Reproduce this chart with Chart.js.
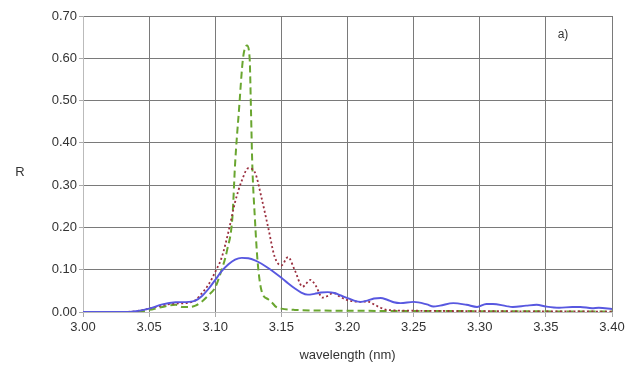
<!DOCTYPE html>
<html><head><meta charset="utf-8">
<script src="https://cdn.jsdelivr.net/npm/chart.js@4/dist/chart.umd.min.js"></script>
<style>html,body{margin:0;padding:0;background:#fff}#wrap{width:629px;height:375px}</style>
</head><body><div id="wrap"><canvas id="c" width="629" height="375"></canvas></div>
<script>
const xTicks = ['3.00','3.05','3.10','3.15','3.20','3.25','3.30','3.35','3.40'];
const yTicks = ['0.00','0.10','0.20','0.30','0.40','0.50','0.60','0.70'];

const blueX = [3.00,3.03,3.04,3.05,3.06,3.07,3.08,3.085,3.09,3.095,3.10,3.105,3.11,3.115,3.12,3.125,3.13,3.135,3.14,3.145,3.15,3.155,3.16,3.165,3.17,3.175,3.18,3.185,3.19,3.195,3.20,3.205,3.21,3.215,3.22,3.225,3.23,3.235,3.24,3.25,3.26,3.265,3.27,3.28,3.29,3.298,3.305,3.31,3.32,3.325,3.335,3.343,3.35,3.36,3.37,3.376,3.385,3.39,3.40];
const blueY = [0,0,0.002,0.008,0.018,0.023,0.024,0.027,0.038,0.055,0.076,0.097,0.113,0.124,0.128,0.127,0.122,0.114,0.104,0.093,0.081,0.068,0.056,0.046,0.041,0.043,0.046,0.047,0.045,0.039,0.033,0.027,0.024,0.027,0.032,0.033,0.029,0.023,0.021,0.024,0.018,0.013,0.015,0.021,0.017,0.012,0.019,0.019,0.014,0.012,0.015,0.017,0.013,0.010,0.012,0.012,0.009,0.010,0.007];

const redX = [3.00,3.03,3.04,3.05,3.06,3.07,3.08,3.085,3.09,3.095,3.10,3.105,3.11,3.115,3.12,3.125,3.13,3.135,3.14,3.145,3.15,3.155,3.16,3.166,3.172,3.176,3.181,3.185,3.189,3.195,3.20,3.205,3.21,3.215,3.22,3.225,3.23,3.25,3.30,3.40];
const redY = [0,0,0.002,0.008,0.016,0.020,0.022,0.028,0.045,0.065,0.095,0.13,0.19,0.26,0.31,0.34,0.33,0.27,0.20,0.13,0.11,0.13,0.10,0.060,0.076,0.062,0.034,0.038,0.045,0.035,0.028,0.025,0.024,0.025,0.018,0.010,0.005,0.003,0.002,0.001];

const greenX = [3.00,3.04,3.05,3.06,3.07,3.075,3.08,3.085,3.09,3.095,3.10,3.104,3.109,3.113,3.115,3.118,3.121,3.124,3.126,3.127,3.128,3.130,3.132,3.135,3.14,3.143,3.146,3.15,3.16,3.20,3.30,3.40];
const greenY = [0,0,0.005,0.012,0.017,0.012,0.012,0.015,0.025,0.040,0.058,0.092,0.147,0.225,0.35,0.48,0.60,0.63,0.60,0.48,0.35,0.22,0.12,0.05,0.03,0.022,0.012,0.008,0.005,0.003,0.002,0.001];

const pts = (xs, ys) => xs.map((x, i) => ({x, y: ys[i]}));
const font = {family: '"Liberation Sans", Arial, sans-serif', size: 13};

const labels = {
  id: 'labels',
  afterDraw(chart) {
    const ctx = chart.ctx;
    ctx.save();
    ctx.fillStyle = '#333';
    ctx.font = '13px "Liberation Sans", Arial, sans-serif';
    ctx.textAlign = 'center';
    ctx.textBaseline = 'middle';
    ctx.fillText('R', 20, 172);
    ctx.font = '12px "Liberation Sans", Arial, sans-serif';
    ctx.fillText('a)', 563, 35);
    ctx.restore();
  }
};

new Chart(document.getElementById('c'), {
  type: 'line',
  data: {
    datasets: [
      {data: pts(blueX, blueY), borderColor: '#5858e0', borderWidth: 1.9, pointRadius: 0, cubicInterpolationMode: 'monotone', fill: false},
      {data: pts(redX, redY), borderColor: '#9a2e3e', borderWidth: 1.8, borderDash: [2, 2.5], pointRadius: 0, cubicInterpolationMode: 'monotone', fill: false},
      {data: pts(greenX, greenY), borderColor: '#6aa630', borderWidth: 2, borderDash: [7, 4], pointRadius: 0, cubicInterpolationMode: 'monotone', fill: false}
    ]
  },
  options: {
    responsive: false,
    animation: false,
    events: [],
    layout: {padding: {left: 0, right: 17, top: 16, bottom: 0}},
    plugins: {legend: {display: false}, tooltip: {enabled: false}},
    scales: {
      x: {
        type: 'linear', min: 3.0, max: 3.4,
        afterBuildTicks(s) { s.ticks = xTicks.map(t => ({value: parseFloat(t)})); },
        afterFit(s) { s.height = 63; },
        ticks: {callback: (v) => v.toFixed(2), color: '#333', font, padding: 3, maxRotation: 0, autoSkip: false},
        grid: {color: '#7a7a7a', lineWidth: 1, tickLength: 5, tickColor: '#aaa'},
        border: {color: '#bbb'},
        title: {display: true, text: 'wavelength (nm)', color: '#333', font, padding: {top: 4, bottom: 12}}
      },
      y: {
        min: 0, max: 0.7,
        afterBuildTicks(s) { s.ticks = yTicks.map(t => ({value: parseFloat(t)})); },
        afterFit(s) { s.width = 83; },
        ticks: {callback: (v) => v.toFixed(2), color: '#333', font, padding: 2, autoSkip: false},
        grid: {color: '#7a7a7a', lineWidth: 1, tickLength: 4, tickColor: '#aaa'},
        border: {color: '#bbb'}
      }
    }
  },
  plugins: [labels]
});
</script>
</body></html>
